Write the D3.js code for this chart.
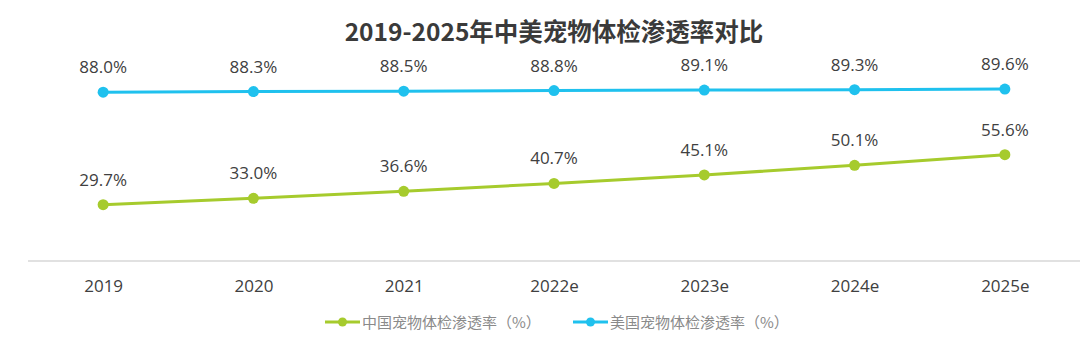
<!DOCTYPE html>
<html>
<head>
<meta charset="utf-8">
<script src="https://cdn.jsdelivr.net/npm/d3@7"></script>
<style>
  html, body { margin: 0; padding: 0; background: #fff; }
  svg { display: block; }
</style>
</head>
<body>
<svg id="chart" width="1080" height="347"></svg>
<script>
// Penetration rate of pet health checks, China vs. US (%)
const years = ["2019", "2020", "2021", "2022e", "2023e", "2024e", "2025e"];
const chinaRate = [29.7, 33.0, 36.6, 40.7, 45.1, 50.1, 55.6];
const usRate = [88.0, 88.3, 88.5, 88.8, 89.1, 89.3, 89.6];
const seriesNames = ["中国宠物体检渗透率（%）", "美国宠物体检渗透率（%）"];
const titleText = "2019-2025年中美宠物体检渗透率对比";

const W = 1080, H = 347;
const font = "'Open Sans', 'Noto Sans CJK SC', sans-serif";
const cjkFont = "'Noto Sans CJK SC', 'Open Sans', sans-serif";
const colors = ["#a6cb2d", "#1fc1ee"];

const svg = d3.select("#chart");

const x = d3.scalePoint().domain(years).range([28, 1080]).padding(0.5);
const y = d3.scaleLinear().domain([0, 100]).range([262, 69]);

// title
svg.append("text")
  .attr("x", 554).attr("y", 41)
  .attr("text-anchor", "middle")
  .attr("font-family", cjkFont)
  .attr("font-weight", "bold")
  .attr("font-size", 24.5)
  .attr("fill", "#3a3a3a")
  .text(titleText);

// category axis
const xAxis = svg.append("g")
  .attr("transform", `translate(0,${y(0) - 1})`)
  .call(d3.axisBottom(x).tickSize(0).tickPadding(19));
xAxis.select(".domain").attr("d", "M28,0H1080").attr("stroke", "#c4c4c4").attr("stroke-width", 1.2);
xAxis.selectAll("text")
  .attr("font-family", font)
  .attr("font-size", 17)
  .attr("fill", "#404040");

const series = [
  { values: chinaRate, color: colors[0] },
  { values: usRate, color: colors[1] }
];

const line = d3.line().x((d, i) => x(years[i])).y(d => y(d));

series.forEach(s => {
  const g = svg.append("g");
  g.append("path")
    .datum(s.values)
    .attr("d", line)
    .attr("fill", "none")
    .attr("stroke", s.color)
    .attr("stroke-width", 3);
  g.selectAll("circle")
    .data(s.values)
    .join("circle")
    .attr("cx", (d, i) => x(years[i]))
    .attr("cy", d => y(d))
    .attr("r", 5.5)
    .attr("fill", s.color);
  g.selectAll("text")
    .data(s.values)
    .join("text")
    .attr("x", (d, i) => x(years[i]))
    .attr("y", d => y(d) - 19)
    .attr("text-anchor", "middle")
    .attr("font-family", font)
    .attr("font-size", 17)
    .attr("fill", "#404040")
    .text(d => d.toFixed(1) + "%");
});

// legend
const legendX = [325, 573];
seriesNames.forEach((name, i) => {
  const g = svg.append("g").attr("transform", `translate(${legendX[i]},322)`);
  g.append("line").attr("x1", 0).attr("x2", 35).attr("y1", 0).attr("y2", 0)
    .attr("stroke", colors[i]).attr("stroke-width", 3);
  g.append("circle").attr("cx", 17.5).attr("cy", 0).attr("r", 4.5).attr("fill", colors[i]);
  g.append("text").attr("x", 37).attr("y", 5.5)
    .attr("font-family", cjkFont)
    .attr("font-size", 15)
    .attr("fill", "#8a8a8a")
    .text(name);
});
</script>
</body>
</html>
